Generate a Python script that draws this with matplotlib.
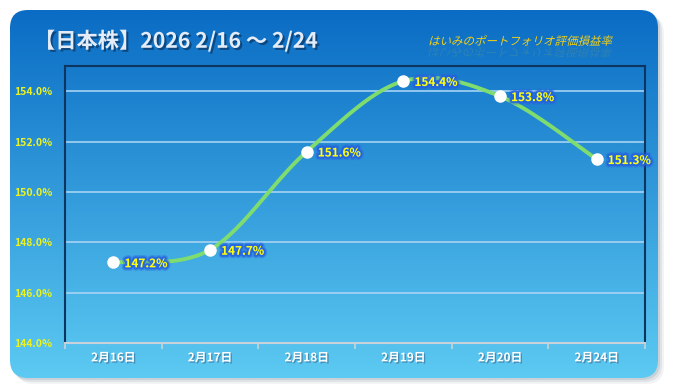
import numpy as np
import matplotlib.pyplot as plt
import matplotlib.patheffects as pe
from matplotlib.patches import FancyBboxPatch, PathPatch
from matplotlib.textpath import TextPath
from matplotlib.font_manager import FontProperties
from matplotlib.transforms import Affine2D

plt.rcParams['font.family'] = ['Noto Sans CJK JP', 'DejaVu Sans']

# data
categories = ['2月16日', '2月17日', '2月18日', '2月19日', '2月20日', '2月24日']
values = [147.2, 147.7, 151.6, 154.4, 153.8, 151.3]
yticks = [144, 146, 148, 150, 152, 154]
title = '【日本株】2026 2/16 ～ 2/24'
subtitle = 'はいみのポートフォリオ評価損益率'

W, H = 674, 392
fig = plt.figure(figsize=(W / 100, H / 100), dpi=100)
fig.patch.set_facecolor('white')

# background layer in pixel coords
bg = fig.add_axes([0, 0, 1, 1])
bg.set_xlim(0, W)
bg.set_ylim(H, 0)
bg.axis('off')

px, py, pw, ph = 10, 10, 648, 368
for off, a in [(6, 0.10), (4, 0.15), (2, 0.2)]:
    bg.add_patch(FancyBboxPatch((px + off, py + off), pw, ph,
                                boxstyle='round,pad=0,rounding_size=18',
                                fc='#7a8a9a', ec='none', alpha=a, zorder=0))
panel = FancyBboxPatch((px, py), pw, ph, boxstyle='round,pad=0,rounding_size=18',
                       fc='none', ec='none')
bg.add_patch(panel)
top_c = np.array([0x0a, 0x6c, 0xc4]) / 255
bot_c = np.array([0x5c, 0xca, 0xf2]) / 255
t = np.linspace(0, 1, 256)[:, None, None]
grad = top_c * (1 - t) + bot_c * t
im = bg.imshow(grad, extent=(px, px + pw, py + ph, py), aspect='auto', origin='upper', zorder=1)
im.set_clip_path(panel)

# title
bg.text(34, 41, title, color='#e4ecf7', fontsize=15.3, fontweight='bold', va='center', ha='left', zorder=3,
        path_effects=[pe.withSimplePatchShadow(offset=(1.5, -1.5), shadow_rgbFace='#0a2a50', alpha=0.6)])

# italic subtitle via skewed text path
fp = FontProperties(family='Noto Sans CJK JP')
tp = TextPath((0, 0), subtitle, size=11.5, prop=fp)
tr = Affine2D().skew_deg(14, 0).scale(1, -1).translate(428, 45)
bg.add_patch(PathPatch(tr.transform_path(tp), fc='#f2cf1a', ec='none', lw=0, zorder=3))
tr2 = Affine2D().skew_deg(-14, 0).translate(429, 48)
bg.add_patch(PathPatch(tr2.transform_path(tp), fc='#f2cf1a', ec='none', lw=0, alpha=0.12, zorder=3))

# plot area
ax = fig.add_axes([65 / W, (H - 343) / H, 580 / W, 277 / H])
ax.patch.set_alpha(0)
ax.set_xlim(-0.5, len(categories) - 0.5)
ax.set_ylim(144, 155)

for s in ['top', 'left', 'right']:
    ax.spines[s].set_color('#0e3560')
    ax.spines[s].set_linewidth(1.5)
ax.spines['bottom'].set_color('#c9d2da')
ax.spines['bottom'].set_linewidth(1.5)

ax.set_yticks(yticks)
ax.set_yticklabels([f'{v:.1f}%' for v in yticks], color='#eef21e', fontweight='bold', fontsize=7.5)
ax.tick_params(axis='y', length=0, pad=9)
ax.grid(axis='y', color='#a6d3f3', lw=1.2)
ax.set_axisbelow(True)

x = np.arange(len(categories))
ax.set_xticks(x)
ax.set_xticklabels(categories, color='white', fontweight='bold', fontsize=8.5,
                   path_effects=[pe.withSimplePatchShadow(offset=(1, -1), shadow_rgbFace='#3a6a90', alpha=0.6)])
ax.set_xticks(np.arange(len(categories) + 1) - 0.5, minor=True)
ax.tick_params(axis='x', which='major', length=0, pad=6)
ax.tick_params(axis='x', which='minor', length=4, color='#c9d2da', width=1.2)


def smooth(xs, ys, n=50):
    # Excel-style smoothed line (cubic bezier through the points)
    pts = np.column_stack([xs, ys]).astype(float)
    P = np.vstack([pts[0], pts, pts[-1]])
    out = []
    for i in range(len(pts) - 1):
        p0, p1, p2, p3 = P[i], P[i + 1], P[i + 2], P[i + 3]
        c1 = p1 + (p2 - p0) / 6
        c2 = p2 - (p3 - p1) / 6
        s = np.linspace(0, 1, n)[:, None]
        seg = (1 - s) ** 3 * p1 + 3 * (1 - s) ** 2 * s * c1 + 3 * (1 - s) * s ** 2 * c2 + s ** 3 * p2
        out.append(seg)
    out = np.vstack(out)
    return out[:, 0], out[:, 1]


sx, sy = smooth(x, values)
ax.plot(sx, sy, color='#7fdc6e', lw=2.8, solid_capstyle='round', zorder=3)
ax.plot(x, values, 'o', ms=8, mfc='white', mec='white', zorder=4)

glow = [pe.Stroke(linewidth=5, foreground='#2a5fe0', alpha=0.35),
        pe.Stroke(linewidth=3, foreground='#2260e0', alpha=0.8),
        pe.Normal()]
for i, v in enumerate(values):
    ax.annotate(f'{v:.1f}%', (i, v), xytext=(8, -1), textcoords='offset points',
                va='center', ha='left', color='#ffff10', fontweight='bold', fontsize=8.5, zorder=5,
                path_effects=glow)

fig.savefig('out.png', dpi=100)
